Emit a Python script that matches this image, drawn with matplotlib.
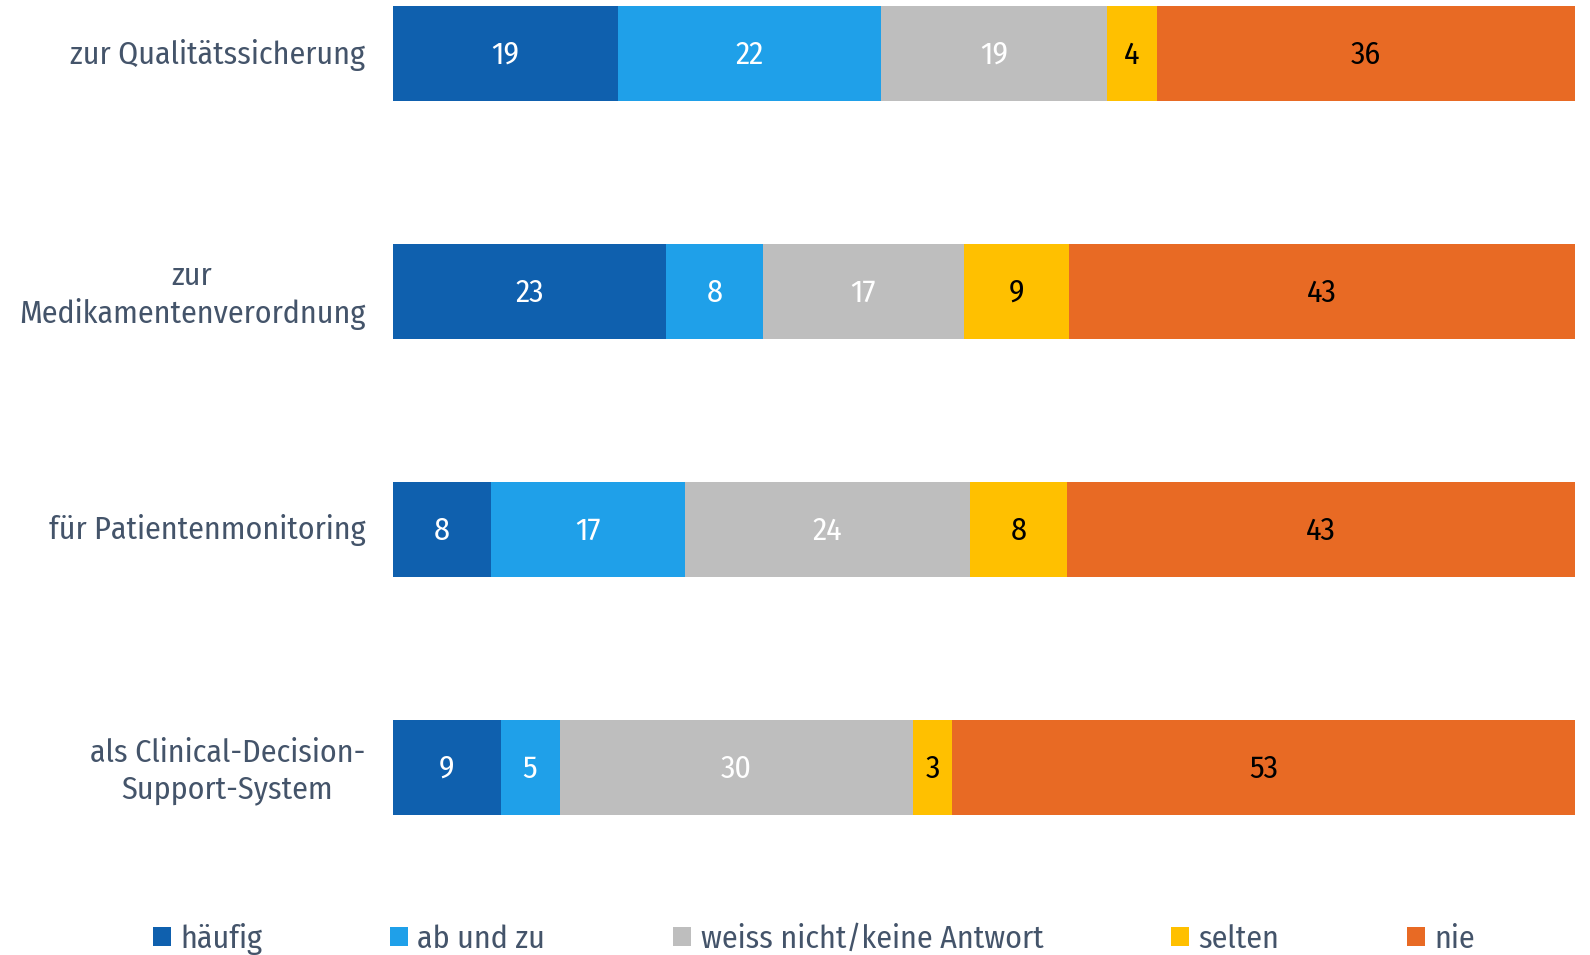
import matplotlib
matplotlib.use("Agg")
import matplotlib.pyplot as plt
import matplotlib.transforms as mtransforms
from matplotlib import font_manager
from matplotlib.patches import Patch

names = {f.name for f in font_manager.fontManager.ttflist}
cands = ["Fira Sans Condensed", "Fira Sans Extra Condensed", "IBM Plex Sans Condensed",
         "Open Sans Condensed", "Roboto Condensed", "Liberation Sans Narrow", "Open Sans"]
fam = [f for f in cands if f in names][:1] + ["DejaVu Sans"]
plt.rcParams['font.family'] = fam

categories = ["zur Qualitätssicherung", "zur\nMedikamentenverordnung",
              "für Patientenmonitoring", "als Clinical-Decision-\nSupport-System"]
series = ["häufig", "ab und zu", "weiss nicht/keine Antwort", "selten", "nie"]

# bar widths (percent)
haeufig = [19.0, 23.1, 8.3, 9.1]
ab_und_zu = [22.3, 8.2, 16.4, 5.0]
weiss_nicht = [19.1, 17.0, 24.1, 29.9]
selten = [4.2, 8.9, 8.2, 3.3]
nie = [35.4, 42.8, 43.0, 52.7]
values = [haeufig, ab_und_zu, weiss_nicht, selten, nie]

# printed value labels
lab_haeufig = [19, 23, 8, 9]
lab_ab_und_zu = [22, 8, 17, 5]
lab_weiss_nicht = [19, 17, 24, 30]
lab_selten = [4, 9, 8, 3]
lab_nie = [36, 43, 43, 53]
labels = [lab_haeufig, lab_ab_und_zu, lab_weiss_nicht, lab_selten, lab_nie]

colors = ["#0F60AE", "#1FA0E9", "#BEBEBE", "#FFC000", "#E86A24"]
txtcolors = ["white", "white", "white", "black", "black"]
labelcolor = "#44546A"
FS = 23

fig = plt.figure(figsize=(15.9, 9.55), dpi=100)
ax = fig.add_axes([393/1590, 1-860/955, (1575-393)/1590, 860/955])

y = list(range(len(categories)))
left = [0]*len(categories)
for vals, labs, c, tc, name in zip(values, labels, colors, txtcolors, series):
    bars = ax.barh(y, vals, left=left, height=0.4, color=c, label=name)
    for rect, lab in zip(bars, labs):
        ax.annotate(str(lab), (rect.get_x() + rect.get_width()/2, rect.get_y() + rect.get_height()/2),
                    xytext=(0, -1.5), textcoords='offset pixels',
                    ha='center', va='center', color=tc, fontsize=FS)
    left = [l + v for l, v in zip(left, vals)]

ax.set_xlim(0, 100)
ax.set_ylim(3.389, -0.225)
ax.set_yticks(y)
ax.set_yticklabels(categories, fontsize=FS, color=labelcolor, ha='right',
                   multialignment='center', linespacing=1.25)
ax.tick_params(axis='y', length=0, pad=20)
off = mtransforms.ScaledTranslation(0, 2.5/100, fig.dpi_scale_trans)
for lbl in ax.get_yticklabels():
    lbl.set_transform(lbl.get_transform() + off)
ax.set_xticks([])
for s in ax.spines.values():
    s.set_visible(False)

handles = [Patch(facecolor=c, label=n) for c, n in zip(colors, series)]
fig.legend(handles=handles, loc='center left', bbox_to_anchor=(153/1590, 1-939/955),
           ncol=5, frameon=False, fontsize=FS, labelcolor=labelcolor,
           handlelength=0.55, handleheight=0.55, handletextpad=0.3,
           columnspacing=4.01, borderpad=0, borderaxespad=0)

fig.savefig("out.png", dpi=100)
